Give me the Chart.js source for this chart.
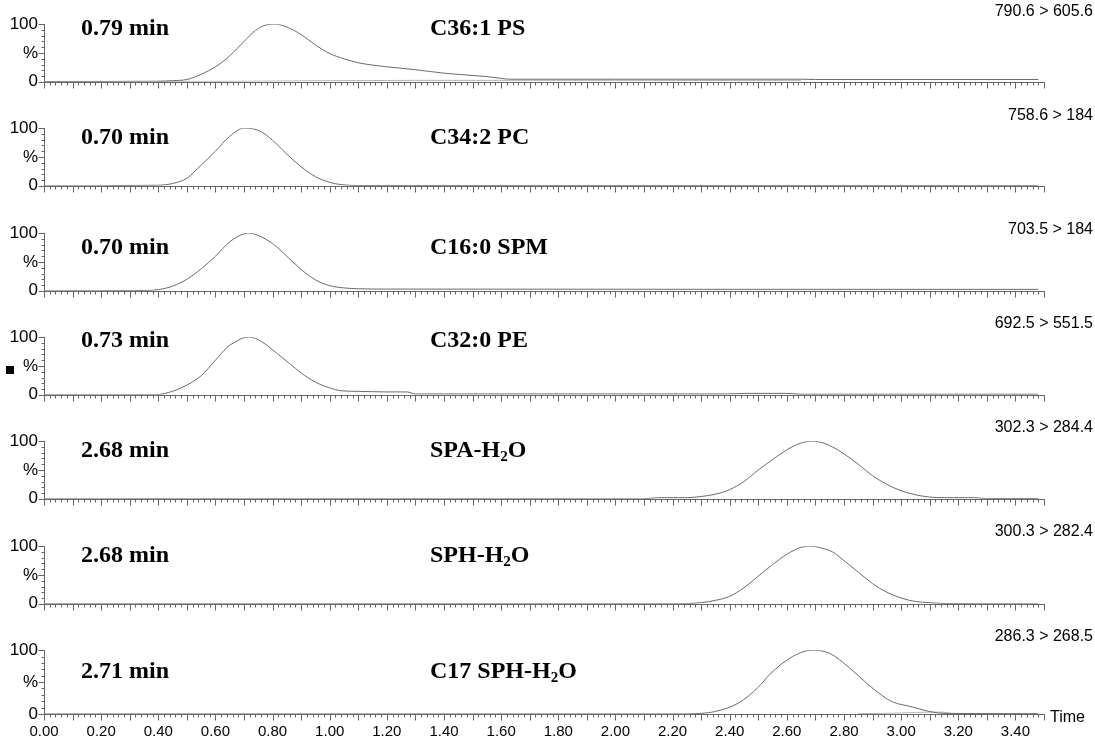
<!DOCTYPE html>
<html>
<head>
<meta charset="utf-8">
<script src="https://cdn.jsdelivr.net/npm/chart.js@4.4.1/dist/chart.umd.min.js"></script>
<style>
  body { margin: 0; background: #fff; }
  #wrap { position: relative; width: 1095px; height: 738px; overflow: hidden; background: #fff; }
  #wrap canvas { position: absolute; left: 0; }
  .rt, .name { position: absolute; font-family: "Liberation Serif", "Times New Roman", serif; font-weight: bold; font-size: 24px; line-height: 1; color: #000; white-space: nowrap; }
  .mrm { position: absolute; right: 2px; font-family: "Liberation Sans", Arial, sans-serif; font-size: 16px; line-height: 1; color: #000; white-space: nowrap; }
  .name sub { font-size: 15px; vertical-align: -4px; line-height: 0; }
  .misc { position: absolute; font-family: "Liberation Sans", Arial, sans-serif; font-size: 16px; line-height: 1; color: #000; }
</style>
</head>
<body>
<div id="wrap"></div>
<script>
// retention times, compound names and transitions, top panel first
const retTimes = ['0.79 min', '0.70 min', '0.70 min', '0.73 min', '2.68 min', '2.68 min', '2.71 min'];
const compounds = ['C36:1 PS', 'C34:2 PC', 'C16:0 SPM', 'C32:0 PE', 'SPA-H<sub>2</sub>O', 'SPH-H<sub>2</sub>O', 'C17 SPH-H<sub>2</sub>O'];
const transitions = ['790.6 > 605.6', '758.6 > 184', '703.5 > 184', '692.5 > 551.5', '302.3 > 284.4', '300.3 > 282.4', '286.3 > 268.5'];

// chromatograms: time (min) and relative intensity (%)
const psTime = [0, 0.40, 0.45, 0.50, 0.55, 0.60, 0.65, 0.70, 0.74, 0.78, 0.81, 0.85, 0.90, 0.95, 1.00, 1.05, 1.10, 1.15, 1.20, 1.30, 1.40, 1.50, 1.55, 1.60, 1.63, 2.00, 2.65, 2.70, 3.48];
const psPct  = [0.5, 1, 2, 4, 13, 26, 45, 70, 89, 99, 100, 95, 82, 64, 49, 40, 33, 29, 26, 21, 15, 11, 9, 6, 4.5, 4.5, 4.5, 4, 4];
// faint second trace near the baseline of the top panel
const psBaseTime = [0.40, 0.70, 1.30, 2.00, 2.65];
const psBasePct  = [0.5, 1, 2.5, 2.5, 2];

const pcTime = [0, 0.20, 0.25, 0.40, 0.45, 0.50, 0.55, 0.60, 0.65, 0.70, 0.73, 0.76, 0.80, 0.85, 0.90, 0.95, 1.00, 1.04, 1.10, 3.48];
const pcPct  = [0, 0, 0.5, 1, 4, 13, 36, 60, 86, 100, 99, 94, 79, 55, 33, 16, 6, 2, 0.5, 0.3];

const spmTime = [0, 0.35, 0.40, 0.45, 0.50, 0.55, 0.60, 0.65, 0.70, 0.72, 0.75, 0.80, 0.85, 0.90, 0.95, 1.00, 1.05, 1.10, 1.20, 3.48];
const spmPct  = [0, 0.5, 2, 8, 20, 38, 60, 85, 99, 100, 96, 82, 60, 37, 19, 9, 5, 3.5, 3, 2.5];

const peTime = [0, 0.39, 0.42, 0.48, 0.55, 0.60, 0.64, 0.67, 0.71, 0.74, 0.78, 0.82, 0.86, 0.90, 0.95, 1.00, 1.04, 1.10, 1.20, 1.27, 1.30, 2.40, 2.45, 2.60, 2.65, 3.48];
const pePct  = [0, 0, 2, 12, 33, 60, 82, 92, 100, 98, 86, 70, 54, 38, 22, 12, 7, 6, 5, 5, 1.5, 1.5, 2.5, 2.5, 1, 1];

const spaTime = [0, 2.10, 2.15, 2.25, 2.30, 2.35, 2.40, 2.45, 2.50, 2.55, 2.60, 2.65, 2.69, 2.72, 2.76, 2.80, 2.85, 2.90, 2.95, 3.00, 3.05, 3.10, 3.15, 3.25, 3.30, 3.48];
const spaPct  = [0, 0, 2, 2, 4, 8, 16, 30, 50, 68, 85, 97, 100, 98, 90, 78, 60, 40, 25, 14, 7, 3, 2, 2, 0.5, 0.5];

const sphTime = [0, 2.20, 2.30, 2.35, 2.40, 2.45, 2.50, 2.55, 2.60, 2.65, 2.68, 2.72, 2.76, 2.80, 2.85, 2.90, 2.95, 3.00, 3.05, 3.10, 3.15, 3.48];
const sphPct  = [0, 0, 2, 6, 13, 28, 48, 68, 86, 98, 100, 97, 90, 75, 55, 35, 20, 10, 4, 2, 0.5, 0];

const c17Time = [0, 2.25, 2.30, 2.35, 2.43, 2.50, 2.54, 2.58, 2.62, 2.66, 2.69, 2.75, 2.82, 2.88, 2.93, 2.97, 3.04, 3.08, 3.11, 3.15, 3.48];
const c17Pct  = [0, 0, 1, 4, 17, 42, 62, 78, 90, 98, 100, 95, 72, 48, 30, 19, 11, 6, 3, 1, 0.5];
const c17BaseTime = [2.85, 3.00, 3.10, 3.14, 3.18];
const c17BasePct  = [0.5, 1.5, 3, 3, 0.5];

const traces = [[psTime, psPct], [pcTime, pcPct], [spmTime, spmPct], [peTime, pePct],
                [spaTime, spaPct], [sphTime, sphPct], [c17Time, c17Pct]];
const baseTraces = { 0: [psBaseTime, psBasePct], 6: [c17BaseTime, c17BasePct] };

const panelTops = [24, 128, 233, 337, 441, 546, 650];
const rtCenters = [29, 138, 248, 341, 451, 556, 672];
const mrmCenters = [12, 116, 230, 324, 428, 532, 637];

// axis lines and tick marks, placed with the chart's scales
const axisTicks = {
    id: 'axisTicks',
    afterDraw(chart) {
        let ctx = chart.ctx, xs = chart.scales.x, ys = chart.scales.y;
        let x0 = Math.round(xs.left) + 0.5;
        let yb = Math.round(ys.bottom) + 0.5;
        ctx.save();
        ctx.strokeStyle = '#666';
        ctx.lineWidth = 1;
        ctx.beginPath();
        ctx.moveTo(x0, Math.round(ys.top));
        ctx.lineTo(x0, yb);
        ctx.lineTo(Math.round(xs.right) + 1, yb);
        for (let v = 0; v <= 100; v += 10) {
            let p = Math.round(ys.getPixelForValue(v)) + 0.5;
            let len = v % 50 === 0 ? 6 : 3;
            ctx.moveTo(x0 - len, p);
            ctx.lineTo(x0, p);
        }
        for (let k = 0; k <= 175; k++) {
            let p = Math.round(xs.getPixelForValue(k * 0.02)) + 0.5;
            let len = k % 5 === 0 ? 6 : 3;
            ctx.moveTo(p, yb);
            ctx.lineTo(p, yb + len);
        }
        ctx.stroke();
        ctx.restore();
    }
};

function toPoints(time, pct) {
    return time.map((t, k) => ({ x: t, y: pct[k] }));
}

function makePanel(i) {
    let wrap = document.getElementById('wrap');
    let last = i === traces.length - 1;
    let padTop = 16;
    let xh = last ? 26 : 10;
    let canvas = document.createElement('canvas');
    canvas.width = 1095;
    canvas.height = padTop + 64 + xh;
    canvas.style.top = (panelTops[i] - padTop) + 'px';
    wrap.appendChild(canvas);

    let [time, pct] = traces[i];
    let datasets = [{
        data: toPoints(time, pct),
        borderColor: '#6a6a6a',
        borderWidth: 1,
        pointRadius: 0,
        fill: false,
        cubicInterpolationMode: 'monotone'
    }];
    if (baseTraces[i]) {
        datasets.push({
            data: toPoints(baseTraces[i][0], baseTraces[i][1]),
            borderColor: '#b4b4b4',
            borderWidth: 1,
            pointRadius: 0,
            fill: false,
            cubicInterpolationMode: 'monotone'
        });
    }

    new Chart(canvas.getContext('2d'), {
        type: 'line',
        data: { datasets: datasets },
        options: {
            responsive: false,
            animation: false,
            events: [],
            layout: { padding: { top: padTop, right: 51, left: 0, bottom: 0 } },
            plugins: { legend: { display: false }, tooltip: { enabled: false } },
            scales: {
                x: {
                    type: 'linear',
                    min: 0,
                    max: 3.5,
                    grid: { display: false, drawTicks: false },
                    border: { display: false },
                    afterFit: s => { s.height = xh; },
                    ticks: {
                        display: last,
                        stepSize: 0.2,
                        includeBounds: false,
                        autoSkip: false,
                        maxRotation: 0,
                        padding: 9,
                        color: '#000',
                        font: { family: 'Liberation Sans', size: 15 },
                        callback: v => v.toFixed(2)
                    }
                },
                y: {
                    min: 0,
                    max: 100,
                    grid: { display: false, drawTicks: false },
                    border: { display: false },
                    afterFit: s => { s.width = 44; },
                    ticks: {
                        stepSize: 50,
                        padding: 6,
                        color: '#000',
                        font: { family: 'Liberation Sans', size: 17 },
                        callback: v => v === 50 ? '%' : String(v)
                    }
                }
            }
        },
        plugins: [axisTicks]
    });

    let rt = document.createElement('div');
    rt.className = 'rt';
    rt.textContent = retTimes[i];
    rt.style.left = '81px';
    rt.style.top = (rtCenters[i] - 14) + 'px';
    wrap.appendChild(rt);

    let nm = document.createElement('div');
    nm.className = 'name';
    nm.innerHTML = compounds[i];
    nm.style.left = '430px';
    nm.style.top = (rtCenters[i] - 14) + 'px';
    wrap.appendChild(nm);

    let mrm = document.createElement('div');
    mrm.className = 'mrm';
    mrm.textContent = transitions[i];
    mrm.style.top = (mrmCenters[i] - 9) + 'px';
    wrap.appendChild(mrm);
}

for (let i = 0; i < traces.length; i++) makePanel(i);

let marker = document.createElement('div');
marker.style.cssText = 'position:absolute;left:6px;top:366px;width:8px;height:8px;background:#000;';
document.getElementById('wrap').appendChild(marker);

let timeLbl = document.createElement('div');
timeLbl.className = 'misc';
timeLbl.style.cssText = 'left:1050px;top:709px;';
timeLbl.textContent = 'Time';
document.getElementById('wrap').appendChild(timeLbl);
</script>
</body>
</html>
